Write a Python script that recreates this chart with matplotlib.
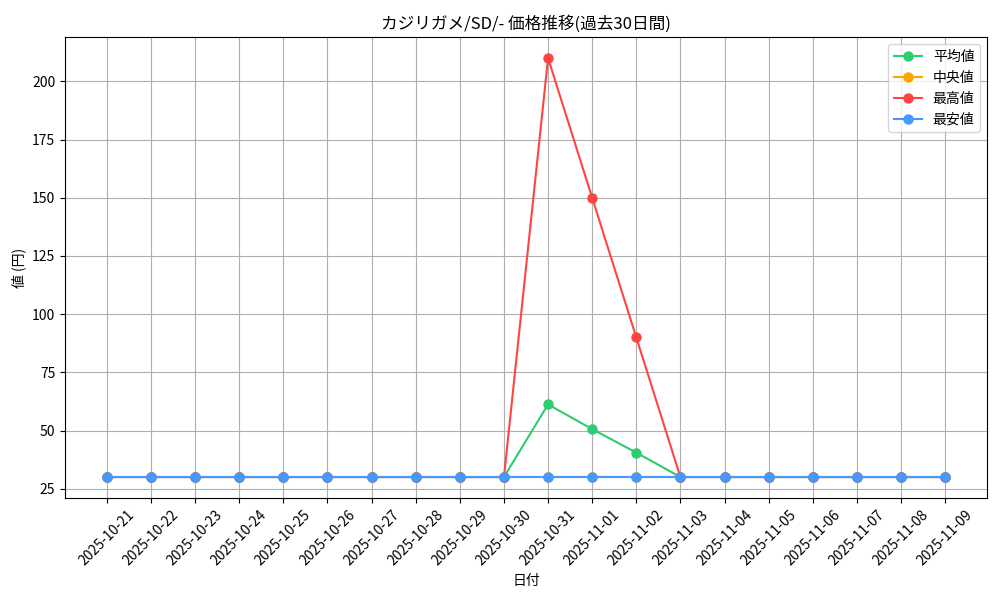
import matplotlib
matplotlib.use("Agg")
import matplotlib.pyplot as plt

plt.rcParams['font.family'] = ['Noto Sans CJK JP', 'DejaVu Sans']

dates = ["2025-10-21", "2025-10-22", "2025-10-23", "2025-10-24", "2025-10-25",
         "2025-10-26", "2025-10-27", "2025-10-28", "2025-10-29", "2025-10-30",
         "2025-10-31", "2025-11-01", "2025-11-02", "2025-11-03", "2025-11-04",
         "2025-11-05", "2025-11-06", "2025-11-07", "2025-11-08", "2025-11-09"]
mean_vals = [30, 30, 30, 30, 30, 30, 30, 30, 30, 30, 61.2, 50.6, 40.5, 30, 30, 30, 30, 30, 30, 30]
median_vals = [30] * 20
max_vals = [30, 30, 30, 30, 30, 30, 30, 30, 30, 30, 210, 150, 90, 30, 30, 30, 30, 30, 30, 30]
min_vals = [30] * 20

fig, ax = plt.subplots(figsize=(10, 6), dpi=100)
x = list(range(len(dates)))
ax.plot(x, mean_vals, marker='o', color='#2ecc71', label='平均値', linewidth=1.5, markersize=6.5)
ax.plot(x, median_vals, marker='o', color='#ffa500', label='中央値', linewidth=1.5, markersize=6.5)
ax.plot(x, max_vals, marker='o', color='#ff4444', label='最高値', linewidth=1.5, markersize=6.5)
ax.plot(x, min_vals, marker='o', color='#4499ff', label='最安値', linewidth=1.5, markersize=6.5)

ax.set_xticks(x)
ax.set_xticklabels(dates, rotation=45)
ax.set_title('カジリガメ/SD/- 価格推移(過去30日間)')
ax.set_xlabel('日付')
ax.set_ylabel('値 (円)')
ax.grid(True)
ax.legend(loc='upper right')
fig.subplots_adjust(left=0.065, right=0.987, top=0.938, bottom=0.17)
fig.savefig('out.png')
